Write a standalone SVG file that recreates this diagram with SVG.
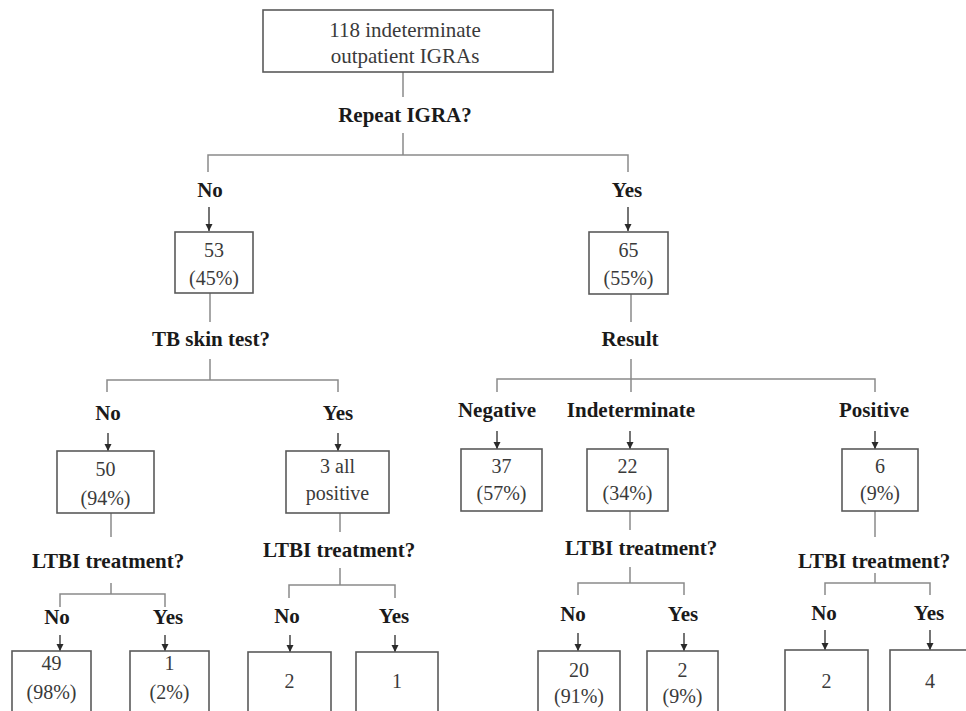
<svg xmlns="http://www.w3.org/2000/svg" width="966" height="711" viewBox="0 0 966 711" font-family="Liberation Serif, DejaVu Serif, Times New Roman, serif">
<defs>
<marker id="ah" markerUnits="userSpaceOnUse" markerWidth="8" markerHeight="8" refX="7" refY="4" orient="auto">
<path d="M0,0.5 L7,4 L0,7.5 z" fill="#2a2a2a"/>
</marker>
<style>
.box{fill:#fff;stroke:#5a5a5a;stroke-width:1.6}
.ln{fill:none;stroke:#8a8a8a;stroke-width:1.5}
.ar{fill:none;stroke:#2a2a2a;stroke-width:1.3;marker-end:url(#ah)}
.t{font-size:20px;fill:#3a3a3a;text-anchor:middle}
.b{font-size:21px;font-weight:bold;fill:#1a1a1a;text-anchor:middle}
</style>
</defs>
<rect width="966" height="711" fill="#fff"/>

<g id="connectors">
<path class="ln" d="M403,72 V97"/>
<path class="ln" d="M403,133 V155 M208,172 V155 H628 V172"/>
<path class="ar" d="M209,207 V231"/>
<path class="ar" d="M628,207 V231"/>
<path class="ln" d="M210,293 V322"/>
<path class="ln" d="M210,359 V380 M107,392 V380 H338 V392"/>
<path class="ar" d="M108,433 V451"/>
<path class="ar" d="M338,433 V451"/>
<path class="ln" d="M111,513 V537"/>
<path class="ln" d="M111,583 V594 M60,607 V594 H165 V607"/>
<path class="ar" d="M60,635 V651"/>
<path class="ar" d="M165,635 V651"/>
<path class="ln" d="M340,513 V532"/>
<path class="ln" d="M340,568 V585 M289,598 V585 H395 V598"/>
<path class="ar" d="M290,635 V652"/>
<path class="ar" d="M395,635 V652"/>
<path class="ln" d="M631,294 V322"/>
<path class="ln" d="M631,359 V392 M497,392 V379 H875 V392"/>
<path class="ar" d="M497,431 V449"/>
<path class="ar" d="M630,431 V449"/>
<path class="ar" d="M875,431 V449"/>
<path class="ln" d="M630,511 V530"/>
<path class="ln" d="M630,567 V583 M578,595 V583 H684 V595"/>
<path class="ar" d="M578,633 V651"/>
<path class="ar" d="M684,633 V651"/>
<path class="ln" d="M875,511 V537"/>
<path class="ln" d="M875,573 V583 M825,595 V583 H930 V595"/>
<path class="ar" d="M825,630 V650"/>
<path class="ar" d="M930,630 V650"/>
</g>

<g id="labels">
<text class="b" x="405" y="122">Repeat IGRA?</text>
<text class="b" x="210" y="197">No</text>
<text class="b" x="627" y="197">Yes</text>
<text class="b" x="211" y="346">TB skin test?</text>
<text class="b" x="108" y="420">No</text>
<text class="b" x="338" y="420">Yes</text>
<text class="b" x="108" y="568">LTBI treatment?</text>
<text class="b" x="57" y="624">No</text>
<text class="b" x="168" y="624">Yes</text>
<text class="b" x="339" y="557">LTBI treatment?</text>
<text class="b" x="287" y="623">No</text>
<text class="b" x="394" y="623">Yes</text>
<text class="b" x="630" y="346">Result</text>
<text class="b" x="497" y="417">Negative</text>
<text class="b" x="631" y="417">Indeterminate</text>
<text class="b" x="874" y="417">Positive</text>
<text class="b" x="641" y="555">LTBI treatment?</text>
<text class="b" x="573" y="621">No</text>
<text class="b" x="683" y="621">Yes</text>
<text class="b" x="874" y="568">LTBI treatment?</text>
<text class="b" x="824" y="620">No</text>
<text class="b" x="929" y="620">Yes</text>
</g>

<g id="n-root"><rect class="box" x="263" y="10" width="290" height="62"/>
<text class="t" x="405" y="37" style="font-size:21px">118 indeterminate</text>
<text class="t" x="405" y="63" style="font-size:21px">outpatient IGRAs</text></g>

<g id="n-53"><rect class="box" x="175" y="232" width="78" height="61"/>
<text class="t" x="214" y="257">53</text><text class="t" x="214" y="285">(45%)</text></g>

<g id="n-65"><rect class="box" x="589" y="232" width="79" height="62"/>
<text class="t" x="628.5" y="257">65</text><text class="t" x="628.5" y="285">(55%)</text></g>

<g id="n-50"><rect class="box" x="57" y="451" width="97" height="62"/>
<text class="t" x="105.5" y="476">50</text><text class="t" x="105.5" y="505">(94%)</text></g>

<g id="n-3"><rect class="box" x="286" y="451" width="103" height="62"/>
<text class="t" x="337.5" y="473">3 all</text><text class="t" x="337.5" y="500">positive</text></g>

<g id="n-37"><rect class="box" x="461" y="449" width="81" height="62"/>
<text class="t" x="501.5" y="473">37</text><text class="t" x="501.5" y="500">(57%)</text></g>

<g id="n-22"><rect class="box" x="587" y="449" width="81" height="62"/>
<text class="t" x="627.5" y="473">22</text><text class="t" x="627.5" y="500">(34%)</text></g>

<g id="n-6"><rect class="box" x="842" y="449" width="76" height="62"/>
<text class="t" x="880" y="473">6</text><text class="t" x="880" y="500">(9%)</text></g>

<g id="n-49"><rect class="box" x="12" y="651" width="79" height="75"/>
<text class="t" x="51.5" y="670">49</text><text class="t" x="51.5" y="699">(98%)</text></g>

<g id="n-1a"><rect class="box" x="130" y="651" width="79" height="75"/>
<text class="t" x="169.5" y="670">1</text><text class="t" x="169.5" y="699">(2%)</text></g>

<g id="n-2a"><rect class="box" x="248" y="652" width="83" height="75"/>
<text class="t" x="289.5" y="688">2</text></g>

<g id="n-1b"><rect class="box" x="356" y="652" width="82" height="75"/>
<text class="t" x="397" y="688">1</text></g>

<g id="n-20"><rect class="box" x="538" y="651" width="82" height="75"/>
<text class="t" x="579" y="677">20</text><text class="t" x="579" y="703">(91%)</text></g>

<g id="n-2b"><rect class="box" x="647" y="651" width="71" height="75"/>
<text class="t" x="682.5" y="677">2</text><text class="t" x="682.5" y="703">(9%)</text></g>

<g id="n-2c"><rect class="box" x="785" y="650" width="83" height="75"/>
<text class="t" x="826.5" y="688">2</text></g>

<g id="n-4"><rect class="box" x="890" y="650" width="80" height="75"/>
<text class="t" x="930" y="688">4</text></g>
</svg>
